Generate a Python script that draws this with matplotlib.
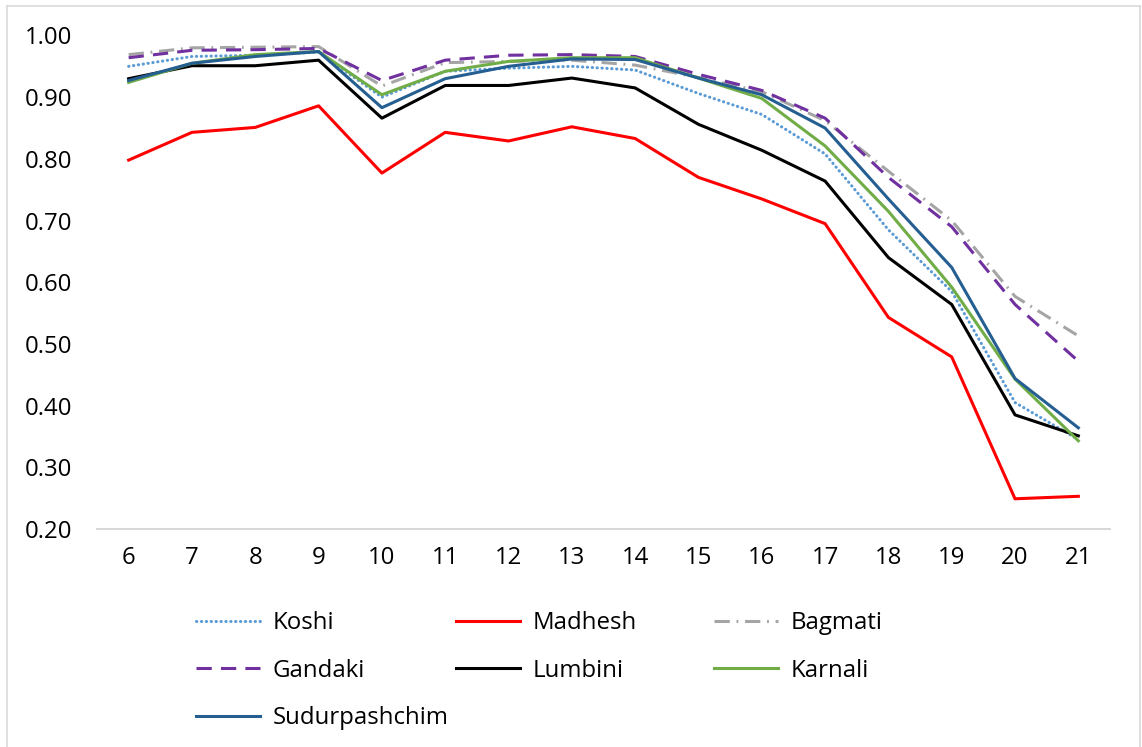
import matplotlib
matplotlib.use('Agg')
import matplotlib.pyplot as plt
from matplotlib.lines import Line2D

# Данные
hours = [6, 7, 8, 9, 10, 11, 12, 13, 14, 15, 16, 17, 18, 19, 20, 21]

koshi = [0.950, 0.966, 0.968, 0.973, 0.900, 0.942, 0.947, 0.950, 0.944, 0.906, 0.872, 0.808,
         0.685, 0.585, 0.405, 0.345]
madhesh = [0.798, 0.843, 0.851, 0.886, 0.777, 0.843, 0.829, 0.852, 0.833, 0.770, 0.735, 0.695,
           0.543, 0.479, 0.249, 0.253]
bagmati = [0.969, 0.980, 0.981, 0.982, 0.918, 0.956, 0.958, 0.960, 0.952, 0.932, 0.909, 0.862,
           0.780, 0.700, 0.577, 0.513]
gandaki = [0.964, 0.976, 0.977, 0.979, 0.927, 0.960, 0.968, 0.969, 0.966, 0.937, 0.911, 0.866,
           0.770, 0.690, 0.564, 0.472]
lumbini = [0.930, 0.951, 0.951, 0.960, 0.866, 0.919, 0.919, 0.931, 0.915, 0.856, 0.814, 0.764,
           0.640, 0.564, 0.385, 0.351]
karnali = [0.924, 0.955, 0.969, 0.974, 0.904, 0.942, 0.958, 0.964, 0.964, 0.931, 0.898, 0.821,
           0.715, 0.592, 0.443, 0.343]
sudurpashchim = [0.927, 0.955, 0.966, 0.974, 0.883, 0.930, 0.950, 0.962, 0.961, 0.931, 0.904, 0.850,
                 0.735, 0.624, 0.444, 0.364]

y_ticks = [0.2, 0.3, 0.4, 0.5, 0.6, 0.7, 0.8, 0.9, 1.0]

plt.rcParams['font.family'] = ['Open Sans', 'DejaVu Sans']

fig = plt.figure(figsize=(11.42, 7.47), dpi=100)
ax = fig.add_axes([97 / 1142, 1 - 529 / 747, (1110 - 97) / 1142, (529 - 35.5) / 747])

lw = 2.2
ax.plot(hours, koshi, color='#5B9BD5', lw=lw, linestyle=(0, (0.1, 1.5)),
        dash_capstyle='round', label='Koshi')
ax.plot(hours, madhesh, color='#FF0000', lw=lw, label='Madhesh')
ax.plot(hours, bagmati, color='#A5A5A5', lw=lw, linestyle=(0, (5, 2.2, 0.6, 2.2)), label='Bagmati')
ax.plot(hours, gandaki, color='#7030A0', lw=lw, linestyle=(0, (5, 3)), label='Gandaki')
ax.plot(hours, lumbini, color='#000000', lw=lw, label='Lumbini')
ax.plot(hours, karnali, color='#70AD47', lw=lw, label='Karnali')
ax.plot(hours, sudurpashchim, color='#255E91', lw=lw, label='Sudurpashchim')

ax.set_xlim(5.5, 21.5)
ax.set_ylim(0.2, 1.0)
ax.set_xticks(hours)
ax.set_xticklabels([str(h) for h in hours])
ax.set_yticks(y_ticks)
ax.set_yticklabels([f'{v:.2f}' for v in y_ticks])

for s in ['top', 'right', 'left']:
    ax.spines[s].set_visible(False)
ax.spines['bottom'].set_color('#D9D9D9')
ax.spines['bottom'].set_linewidth(1.5)
ax.tick_params(axis='both', length=0, labelsize=17.3, colors='black')
ax.tick_params(axis='y', pad=18)
ax.tick_params(axis='x', pad=12)

# Легенда: три колонки одинаковой ширины, как в Excel
handles, labels = ax.get_legend_handles_labels()
col_x = [196 / 1142, 456 / 1142, 714 / 1142]
for i in range(3):
    fig.legend(handles[i::3], labels[i::3], loc='upper left',
               bbox_to_anchor=(col_x[i], 1 - 611 / 747), frameon=False,
               fontsize=17.3, handlelength=2.65, handletextpad=0.55,
               labelspacing=0.98, borderpad=0, borderaxespad=0)

# Рамка области диаграммы
for xs, ys in [([7, 7], [0, 741]), ([7, 1140], [741, 741]), ([1140, 1140], [741, 0])]:
    fig.add_artist(Line2D([x / 1142 for x in xs], [y / 747 for y in ys],
                          color='#D9D9D9', lw=1.2, transform=fig.transFigure))

fig.savefig('out.png', dpi=100)
